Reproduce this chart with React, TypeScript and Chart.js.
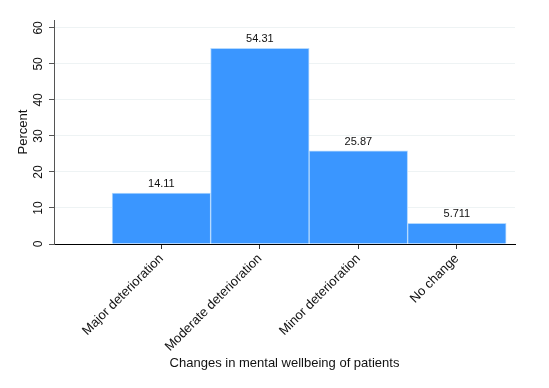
import React, { useEffect, useRef } from "react";
import { Chart, registerables } from "chart.js";

Chart.register(...registerables);

const categories = ["Major deterioration", "Moderate deterioration", "Minor deterioration", "No change"];
const categoryCodes = [1, 2, 3, 4];
const percents = [14.11, 54.31, 25.87, 5.711];
const valueLabels = ["14.11", "54.31", "25.87", "5.711"];
const yTicks = [0, 10, 20, 30, 40, 50, 60];

const FONT = "'Liberation Sans', Arial, sans-serif";

const valueLabelPlugin = {
  id: "valueLabels",
  afterDatasetsDraw(chart: any) {
    const ctx = chart.ctx;
    const meta = chart.getDatasetMeta(0);
    ctx.save();
    ctx.fillStyle = "#111";
    ctx.font = `11px ${FONT}`;
    ctx.textAlign = "center";
    ctx.textBaseline = "alphabetic";
    meta.data.forEach((el: any, i: number) => {
      ctx.fillText(valueLabels[i], el.x, el.y - 6);
    });
    ctx.restore();
  },
};

export default function App() {
  const ref = useRef<HTMLCanvasElement | null>(null);
  useEffect(() => {
    if (!ref.current) return;
    const chart = new Chart(ref.current, {
      type: "bar",
      data: {
        datasets: [
          {
            data: categoryCodes.map((c, i) => ({ x: c, y: percents[i] })),
            backgroundColor: "#3a96ff",
            borderColor: "#b3d9ff",
            borderWidth: 1,
            borderSkipped: "bottom",
            categoryPercentage: 1,
            barPercentage: 1,
          },
        ],
      },
      options: {
        animation: false,
        responsive: false,
        maintainAspectRatio: false,
        layout: { padding: { top: 20, right: 34, left: 0, bottom: 0 } },
        plugins: { legend: { display: false }, tooltip: { enabled: false } },
        scales: {
          x: {
            type: "linear",
            offset: false,
            min: -0.09,
            max: 4.59,
            afterBuildTicks: (s: any) => {
              s.ticks = categoryCodes.map((v) => ({ value: v }));
            },
            afterFit: (s: any) => {
              s.height = 144;
            },
            ticks: {
              autoSkip: false,
              minRotation: 45,
              maxRotation: 45,
              color: "#111",
              font: { family: FONT, size: 13 },
              padding: 2,
              callback: (v: any) => {
                const i = categoryCodes.indexOf(Number(v));
                return i >= 0 ? categories[i] : "";
              },
            },
            grid: {
              display: true,
              offset: false,
              drawOnChartArea: false,
              drawTicks: true,
              tickLength: 5,
              color: "#333",
              tickColor: "#333",
            },
            border: { display: true, color: "#000", width: 1 },
            title: {
              display: true,
              text: "Changes in mental wellbeing of patients",
              color: "#111",
              font: { family: FONT, size: 13 },
              padding: { top: 0, bottom: 17 },
            },
          },
          y: {
            min: 0,
            max: 62.2,
            afterBuildTicks: (s: any) => {
              s.ticks = yTicks.map((v) => ({ value: v }));
            },
            afterFit: (s: any) => {
              s.width = 54;
            },
            ticks: {
              minRotation: 90,
              maxRotation: 90,
              crossAlign: "center",
              color: "#111",
              font: { family: FONT, size: 12 },
              padding: 4,
            },
            grid: {
              color: "#eef3f4",
              tickLength: 5,
              tickColor: "#555",
            },
            border: { display: true, color: "#555", width: 1 },
            title: {
              display: true,
              text: "Percent",
              color: "#111",
              font: { family: FONT, size: 13 },
              padding: { top: 16, bottom: 2 },
            },
          },
        },
      },
      plugins: [valueLabelPlugin],
    } as any);
    return () => chart.destroy();
  }, []);
  return (
    <div style={{ position: "fixed", left: 0, top: 0, width: 549, height: 388, background: "#fff" }}>
      <canvas ref={ref} width={549} height={388} style={{ width: 549, height: 388 }} />
    </div>
  );
}
